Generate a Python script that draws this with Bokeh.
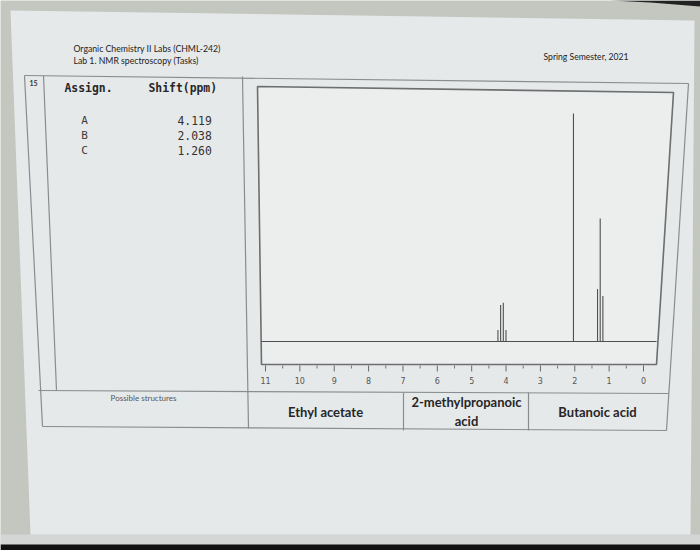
from bokeh.plotting import figure
from bokeh.models import Range1d
from bokeh.core.properties import value
from bokeh.embed import file_html
from bokeh.resources import INLINE

# ---- worksheet content -------------------------------------------------
course_lines = ["Organic Chemistry II Labs (CHML-242)", "Lab 1. NMR spectroscopy (Tasks)"]
semester = "Spring Semester, 2021"
task_number = "15"
assign_labels = ["A", "B", "C"]
shift_values = ["4.119", "2.038", "1.260"]
structures = ["Ethyl acetate", "2-methylpropanoic\nacid", "Butanoic acid"]

# ---- 1H NMR spectrum (ppm, relative intensity) ------------------------
quartet_ppm = [4.236, 4.158, 4.080, 4.002]      # A, OCH2
quartet_int = [0.05, 0.16, 0.17, 0.05]
singlet_ppm = [2.038]                           # B, COCH3
singlet_int = [1.0]
triplet_ppm = [1.338, 1.260, 1.182]             # C, CH3
triplet_int = [0.23, 0.54, 0.20]
spectral_window = [11.12, -0.38]
major_ticks = [11, 10, 9, 8, 7, 6, 5, 4, 3, 2, 1, 0]
minor_ticks = [10.5, 9.5, 8.5, 7.5, 6.5, 5.5, 4.5, 3.5, 2.5, 1.5, 0.5]
tick_labels = [str(t) for t in major_ticks]

W, H = 700, 550

# page coordinates: x to the right, y downwards
p = figure(width=W, height=H, x_range=Range1d(0, W), y_range=Range1d(H, 0),
           min_border=0, toolbar_location=None, output_backend="svg",
           x_axis_location=None, y_axis_location=None)
p.grid.visible = False
p.outline_line_color = None
p.background_fill_color = "#c3c7bf"
p.border_fill_color = "#c3c7bf"

# spectrum scales placed over the page: 11 ppm at x=265, 0 ppm at x=643,
# baseline at y=341 and full-scale peak at y=113
X11, X0 = 265, 643
px_per_ppm = (X0 - X11) / 11.0
BASE_Y, FULL_Y = 341, 113
px_per_unit = BASE_Y - FULL_Y
p.extra_x_ranges = {"ppm": Range1d(11 + X11 / px_per_ppm, -(W - X0) / px_per_ppm)}
p.extra_y_ranges = {"int": Range1d(-(H - BASE_Y) / px_per_unit, BASE_Y / px_per_unit)}

# screen / page backdrop
p.patch([0, 700, 700, 0], [534, 534, 550, 550], fill_color="#d3d6d5", line_color=None)
p.patch([0, 700, 700, 0], [544, 544, 550, 550], fill_color="#111111", line_color=None)
p.patch([610, 700, 700, 650], [0, 0, 6, 2], fill_color="#222222", line_color=None)
p.patch([10, 694, 690, 30], [10, 20, 534, 534], fill_color="#e6e9ea", line_color=None)

# table rules
GRID = "#8a8d8e"
tx0 = [24, 24, 688, 42, 38, 43, 242, 403, 528]
ty0 = [75, 75, 83, 426, 390, 75, 76, 392, 392]
tx1 = [688, 42, 666, 666, 668, 56, 248, 403, 528]
ty1 = [83, 426, 430, 430, 393, 390, 428, 430, 430]
p.segment(x0=tx0, y0=ty0, x1=tx1, y1=ty1, line_color=GRID, line_width=1.2)

# spectrum frame
p.patch([257, 673, 656, 261], [86, 92, 364, 364], fill_color="#eceeee",
        line_color="#6c6e6f", line_width=1.6)

# spectrum trace: baseline and peak lines
SPEC = "#4d4f50"
p.line(x=spectral_window, y=[0, 0], x_range_name="ppm", y_range_name="int",
       line_color=SPEC, line_width=1.1)
for xs, ys in ((quartet_ppm, quartet_int), (singlet_ppm, singlet_int), (triplet_ppm, triplet_int)):
    p.segment(x0=xs, y0=[0] * len(xs), x1=xs, y1=ys, x_range_name="ppm",
              y_range_name="int", line_color=SPEC, line_width=1.1)

# ppm axis under the frame
p.segment(x0=major_ticks, y0=[365] * 12, x1=major_ticks, y1=[371] * 12,
          x_range_name="ppm", line_color="#666666", line_width=1)
p.segment(x0=minor_ticks, y0=[365] * 11, x1=minor_ticks, y1=[368] * 11,
          x_range_name="ppm", line_color="#777777", line_width=1)
p.text(x=major_ticks, y=[380] * 12, text=tick_labels, x_range_name="ppm",
       text_font=value("DejaVu Sans"), text_font_size="8px", text_color="#555555",
       text_align="center", text_baseline="middle")

# header
p.text(x=[73, 73], y=[48, 60], text=course_lines, text_font=value("Lato"),
       text_font_size="8.7px", text_color="#222222", text_baseline="middle")
p.text(x=[543], y=[56], text=[semester], text_font=value("Lato"),
       text_font_size="8.6px", text_color="#222222", text_baseline="middle")

# assignment table
p.text(x=[29], y=[82], text=[task_number], text_font=value("Lato"),
       text_font_size="7px", text_font_style="bold", text_color="#333333",
       text_baseline="middle")
p.text(x=[64, 148], y=[87, 87], text=["Assign.", "Shift(ppm)"],
       text_font=value("DejaVu Sans Mono"), text_font_size="11.4px",
       text_font_style="bold", text_color="#262626", text_baseline="middle")
p.text(x=[84, 84, 84], y=[120, 135, 150], text=assign_labels,
       text_font=value("DejaVu Sans Mono"), text_font_size="11px",
       text_color="#3a3a3a", text_align="center", text_baseline="middle")
p.text(x=[177, 177, 177], y=[120, 135, 150], text=shift_values,
       text_font=value("DejaVu Sans Mono"), text_font_size="11.4px",
       text_color="#333333", text_baseline="middle")

# structures row
p.text(x=[143], y=[397], text=["Possible structures"], text_font=value("Lato"),
       text_font_size="8px", text_color="#555555", text_align="center",
       text_baseline="middle")
p.text(x=[325, 466, 597], y=[411, 411, 411], text=structures,
       text_font=value("Lato"), text_font_size="13px", text_font_style="bold",
       text_color="#262626", text_align="center", text_baseline="middle",
       text_line_height=1.2)

open("out.html", "w").write(file_html(p, INLINE))
